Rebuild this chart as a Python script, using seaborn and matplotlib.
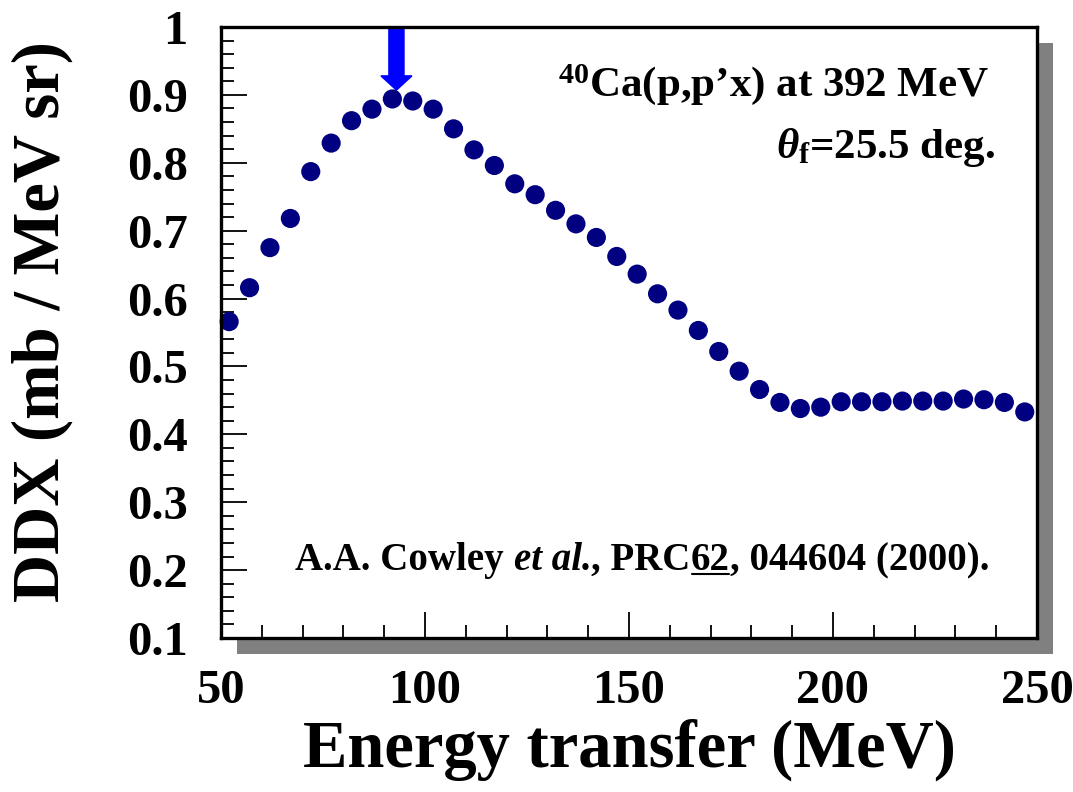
import matplotlib
matplotlib.use("Agg")
import matplotlib.pyplot as plt
from matplotlib.patches import Rectangle, FancyArrow
from matplotlib.lines import Line2D
from matplotlib.ticker import MultipleLocator, FixedLocator, FixedFormatter
import seaborn as sns
import pandas as pd

# 40Ca(p,p'x) double-differential cross section at 392 MeV, theta_f = 25.5 deg
energy_mev = [52, 57, 62, 67, 72, 77, 82, 87, 92, 97,
              102, 107, 112, 117, 122, 127, 132, 137, 142, 147,
              152, 157, 162, 167, 172, 177, 182, 187, 192, 197,
              202, 207, 212, 217, 222, 227, 232, 237, 242, 247]
ddx = [0.566, 0.616, 0.675, 0.718, 0.787, 0.829, 0.862, 0.879, 0.894, 0.891,
       0.879, 0.850, 0.819, 0.796, 0.769, 0.753, 0.730, 0.710, 0.690, 0.662,
       0.636, 0.607, 0.583, 0.553, 0.522, 0.493, 0.466, 0.447, 0.438, 0.440,
       0.448, 0.448, 0.448, 0.449, 0.449, 0.449, 0.452, 0.451, 0.447, 0.433]

x_ticks = [50, 100, 150, 200, 250]
x_tick_labels = ["50", "100", "150", "200", "250"]
y_ticks = [0.1, 0.2, 0.3, 0.4, 0.5, 0.6, 0.7, 0.8, 0.9, 1.0]
y_tick_labels = ["0.1", "0.2", "0.3", "0.4", "0.5", "0.6", "0.7", "0.8", "0.9", "1"]

# quasi-free peak marker
arrow_energy = 93.0
arrow_tip = 0.907

sns.set_style("ticks")
plt.rcParams.update({
    "font.family": ["Liberation Serif", "DejaVu Serif"],
    "font.weight": "bold",
    "text.color": "black",
    "axes.labelcolor": "black",
    "xtick.color": "black",
    "ytick.color": "black",
    "mathtext.fontset": "custom",
    "mathtext.rm": "Liberation Serif:bold",
    "mathtext.it": "Liberation Serif:italic:bold",
    "mathtext.bf": "Liberation Serif:bold",
})

W, H = 1073, 792
fig = plt.figure(figsize=(W / 100, H / 100), dpi=100)
fig.patch.set_facecolor("white")

# axes frame in pixel terms
L, R, T, B = 221, 1037, 27, 638
ax = fig.add_axes([L / W, 1 - B / H, (R - L) / W, (B - T) / H])
ax.set_facecolor("white")

# drop shadow behind the frame
off = 16
shadow = Rectangle(((L + off) / W, 1 - (B + off) / H), (R - L) / W, (B - T) / H,
                   transform=fig.transFigure, facecolor="#808080",
                   edgecolor="none", zorder=-1)
fig.patches.append(shadow)

df = pd.DataFrame({"energy": energy_mev, "ddx": ddx})
sns.scatterplot(data=df, x="energy", y="ddx", ax=ax, s=190, color="#000080",
                edgecolor="none", linewidth=0, zorder=3, clip_on=False, legend=False)

ax.set_xlim(50, 250)
ax.set_ylim(0.1, 1.0)
ax.xaxis.set_major_locator(FixedLocator(x_ticks))
ax.xaxis.set_major_formatter(FixedFormatter(x_tick_labels))
ax.yaxis.set_major_locator(FixedLocator(y_ticks))
ax.yaxis.set_major_formatter(FixedFormatter(y_tick_labels))
ax.xaxis.set_minor_locator(MultipleLocator(10))
ax.yaxis.set_minor_locator(MultipleLocator(0.02))

for s in ax.spines.values():
    s.set_linewidth(2.4)
    s.set_color("black")
    s.set_zorder(5)

ax.tick_params(which="both", direction="in", top=False, right=False,
               left=True, bottom=True, color="black", labelcolor="black")
ax.tick_params(which="major", length=19, width=1.3, labelsize=35)
ax.tick_params(which="minor", length=9.5, width=1.3)
ax.tick_params(axis="x", which="major", pad=22)
ax.tick_params(axis="y", which="major", pad=24)
for lab in ax.get_xticklabels() + ax.get_yticklabels():
    lab.set_fontweight("bold")

ax.set_xlabel("")
ax.set_ylabel("")
fig.text((L + R) / 2 / W, 1 - 767 / H, "Energy transfer (MeV)", ha="center",
         va="baseline", fontsize=48, fontweight="bold", color="black")
fig.text(42 / W, 1 - 322 / H, "DDX (mb / MeV sr)", ha="center",
         va="center", rotation=90, fontsize=48, fontweight="bold", color="black")

# arrow at the peak
arrow = FancyArrow(arrow_energy, 1.0, 0, arrow_tip - 1.0, width=3.7,
                   head_width=7.6, head_length=0.021, length_includes_head=True,
                   color="#0000ff", clip_on=False, zorder=2)
ax.add_patch(arrow)

# reaction labels
fig.text(989 / W, 1 - 96 / H, r"${}^{40}$Ca(p,p’x) at 392 MeV", ha="right",
         va="baseline", fontsize=31, fontweight="bold", color="black")
fig.text(995 / W, 1 - 158 / H, r"$\theta_{\mathrm{f}}$=25.5 deg.", ha="right",
         va="baseline", fontsize=31, fontweight="bold", color="black")

# reference line, laid out piece by piece (italic "et al.", underlined volume)
cite_pieces = [("A.A. Cowley ", "normal", False),
               ("et al.", "italic", False),
               (", PRC", "normal", False),
               ("62", "normal", True),
               (", 044604 (2000).", "normal", False)]
cite_right, cite_base, cite_fs = 989, 570, 28

fig.canvas.draw()
renderer = fig.canvas.get_renderer()


def advance(txt, style):
    """Horizontal advance of a string in pixels, trailing spaces included."""
    a = fig.text(0, 0, "|" + txt + "|", fontsize=cite_fs, fontweight="bold", style=style)
    b = fig.text(0, 0, "||", fontsize=cite_fs, fontweight="bold", style=style)
    w = a.get_window_extent(renderer).width - b.get_window_extent(renderer).width
    a.remove()
    b.remove()
    return w


widths = [advance(t, st) for t, st, _ in cite_pieces]
x = cite_right - sum(widths)
for (t, st, under), w in zip(cite_pieces, widths):
    fig.text(x / W, 1 - cite_base / H, t, ha="left", va="baseline",
             fontsize=cite_fs, fontweight="bold", style=st, color="black")
    if under:
        uy = H - cite_base - 4
        fig.lines.append(Line2D([x + 1, x + w - 1], [uy, uy], transform=None,
                                color="black", linewidth=1.5))
    x += w

fig.savefig("out.png", dpi=100, facecolor="white")
